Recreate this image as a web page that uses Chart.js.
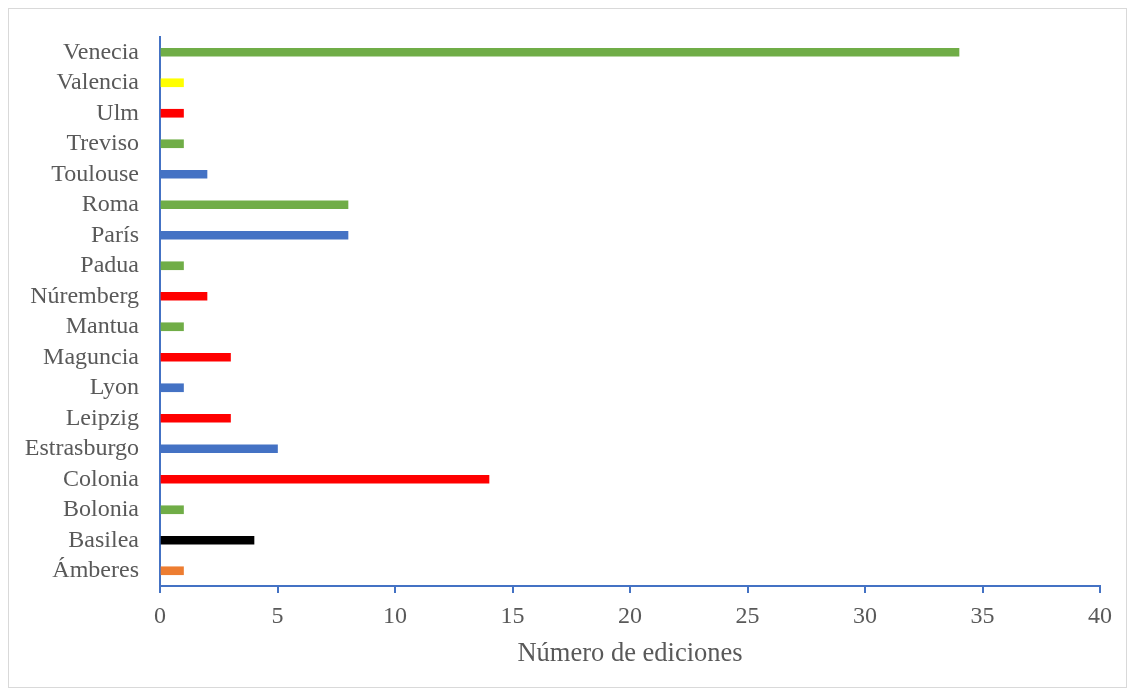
<!DOCTYPE html>
<html lang="es">
<head>
<meta charset="utf-8">
<title>Número de ediciones por ciudad</title>
<script src="https://cdn.jsdelivr.net/npm/chart.js@4/dist/chart.umd.min.js"></script>
<style>
  html, body { margin: 0; padding: 0; background: #ffffff; }
  #frame {
    position: absolute; left: 8px; top: 8px; width: 1117px; height: 678px;
    border: 1.5px solid #d9d9d9; pointer-events: none;
  }
  #wrap { position: absolute; left: 0; top: 0; width: 1134px; height: 695px; }
</style>
</head>
<body>
<div id="wrap"><canvas id="editionsChart" width="1134" height="695"></canvas></div>
<div id="frame"></div>
<script>
// Data, top to bottom as in the figure
const cities = ['Venecia', 'Valencia', 'Ulm', 'Treviso', 'Toulouse', 'Roma', 'París', 'Padua',
    'Núremberg', 'Mantua', 'Maguncia', 'Lyon', 'Leipzig', 'Estrasburgo', 'Colonia',
    'Bolonia', 'Basilea', 'Ámberes'];
const editions = [34, 1, 1, 1, 2, 8, 8, 1, 2, 1, 3, 1, 3, 5, 14, 1, 4, 1];
const xTicks = [0, 5, 10, 15, 20, 25, 30, 35, 40];

// Bar colours (green = Italia, red = Imperio, blue = Francia ...)
const GREEN = '#70AD47', BLUE = '#4472C4', RED = '#FF0000';
const barColors = [GREEN, '#FFFF00', RED, GREEN, BLUE, GREEN, BLUE, GREEN,
    RED, GREEN, RED, BLUE, RED, BLUE, RED, GREEN, '#000000', '#ED7D31'];

const AXIS = '#4472C4';
const TEXT = '#595959';
const FONT = "'Liberation Serif', 'Times New Roman', serif";

new Chart(document.getElementById('editionsChart'), {
    type: 'bar',
    data: {
        labels: cities,
        datasets: [{
            data: editions,
            backgroundColor: barColors,
            borderWidth: 0,
            barThickness: 8
        }]
    },
    options: {
        indexAxis: 'y',
        responsive: false,
        animation: false,
        layout: { padding: { top: 37, right: 34, left: 0, bottom: 0 } },
        plugins: {
            legend: { display: false },
            tooltip: { enabled: false }
        },
        scales: {
            x: {
                min: xTicks[0],
                max: xTicks[xTicks.length - 1],
                afterBuildTicks: s => { s.ticks = xTicks.map(v => ({ value: v })); },
                afterFit: s => { s.height = 109; },
                grid: {
                    drawOnChartArea: false,
                    color: AXIS,
                    tickColor: AXIS,
                    tickLength: 7,
                    lineWidth: 2
                },
                border: { color: AXIS, width: 2 },
                ticks: {
                    color: TEXT,
                    padding: 9,
                    font: { family: FONT, size: 24 }
                },
                title: {
                    display: true,
                    text: 'Número de ediciones',
                    color: TEXT,
                    font: { family: FONT, size: 26.5 },
                    padding: { top: 4, bottom: 25 }
                }
            },
            y: {
                afterFit: s => { s.width = 160; },
                grid: { drawOnChartArea: false, drawTicks: false },
                border: { color: AXIS, width: 2 },
                ticks: {
                    autoSkip: false,
                    color: TEXT,
                    padding: 21,
                    font: { family: FONT, size: 24 }
                }
            }
        }
    }
});
</script>
</body>
</html>
